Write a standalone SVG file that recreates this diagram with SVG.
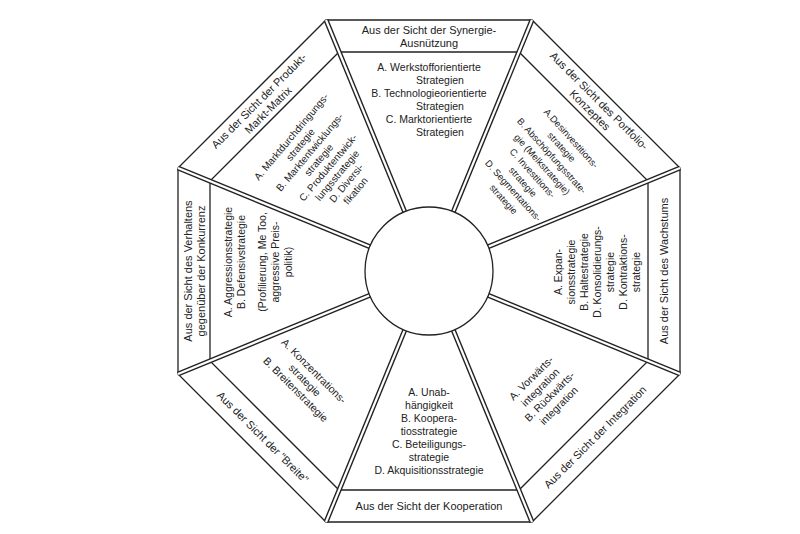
<svg xmlns="http://www.w3.org/2000/svg" width="800" height="534" viewBox="0 0 800 534">
<style>
text{font-family:"Liberation Sans",Arial,sans-serif;font-size:10.5px;fill:#222;text-anchor:middle}
.h{font-size:11px}
.s{font-size:10px}
.t{font-size:9.5px}
.ln{fill:none;stroke:#222;stroke-width:1.3}
.sp{stroke:#222;stroke-width:5}
.spw{stroke:#fff;stroke-width:2.2}
</style>
<rect width="800" height="534" fill="#fff"/>
<g id="frame">
<polygon class="ln" points="326,20 532,20 680,168 680,374 532,522 326,522 178,374 178,168"/>
<polygon class="ln" points="339,52 519,52 648,181 648,361 519,490 339,490 210,361 210,181"/>
</g>
<g id="connectors">
<line class="sp" x1="429" y1="271" x2="326" y2="20"/><line class="spw" x1="429" y1="271" x2="326" y2="20"/>
<line class="sp" x1="429" y1="271" x2="532" y2="20"/><line class="spw" x1="429" y1="271" x2="532" y2="20"/>
<line class="sp" x1="429" y1="271" x2="680" y2="168"/><line class="spw" x1="429" y1="271" x2="680" y2="168"/>
<line class="sp" x1="429" y1="271" x2="680" y2="374"/><line class="spw" x1="429" y1="271" x2="680" y2="374"/>
<line class="sp" x1="429" y1="271" x2="532" y2="522"/><line class="spw" x1="429" y1="271" x2="532" y2="522"/>
<line class="sp" x1="429" y1="271" x2="326" y2="522"/><line class="spw" x1="429" y1="271" x2="326" y2="522"/>
<line class="sp" x1="429" y1="271" x2="178" y2="374"/><line class="spw" x1="429" y1="271" x2="178" y2="374"/>
<line class="sp" x1="429" y1="271" x2="178" y2="168"/><line class="spw" x1="429" y1="271" x2="178" y2="168"/>
</g>
<g id="center"><circle cx="429" cy="271" r="64" fill="#fff" stroke="#222" stroke-width="1.3"/></g>
<g id="synergie">
<text class="h" x="429" y="34">Aus der Sicht der Synergie-</text>
<text class="h" x="429" y="47">Ausnützung</text>
<text x="429" y="71">A. Werkstofforientierte</text><text x="440" y="84">Strategien</text>
<text x="429" y="97">B. Technologieorientierte</text><text x="440" y="110">Strategien</text>
<text x="429" y="123">C. Marktorientierte</text><text x="440" y="136">Strategien</text>
</g>
<g id="produkt">
<g transform="translate(263,105) rotate(-45)"><text class="h" y="-2">Aus der Sicht der Produkt-</text><text class="h" y="11">Markt-Matrix</text></g>
<g transform="translate(326,166) rotate(-50)">
<text class="s" y="-42">A. Marktdurchdringungs-</text><text class="s" y="-30">strategie</text><text class="s" y="-18">B. Marktentwicklungs-</text><text class="s" y="-6">strategie</text><text class="s" y="6">C. Produktentwick-</text><text class="s" y="18">lungsstrategie</text><text class="s" y="30">D. Diversi-</text><text class="s" y="42">fikation</text></g>
</g>
<g id="portfolio">
<g transform="translate(595,105) rotate(45)"><text class="h" y="-2">Aus der Sicht des Portfolio-</text><text class="h" y="11">Konzeptes</text></g>
<g transform="translate(536,170) rotate(48)">
<text class="t" y="-44">A.Desinvestitions-</text><text class="t" y="-31">strategie</text><text class="t" y="-18">B. Abschöpfungsstrate-</text><text class="t" y="-5">gie (Melkstrategie)</text><text class="t" y="8">C. Investitions-</text><text class="t" y="21">strategie</text><text class="t" y="34">D. Segmentations-</text><text class="t" y="47">strategie</text></g>
</g>
<g id="wachstum">
<g transform="translate(664,271) rotate(-90)"><text class="h" y="4">Aus der Sicht des Wachstums</text></g>
<g transform="translate(596,272) rotate(-90)">
<text y="-34">A. Expan-</text><text y="-21">sionsstrategie</text><text y="-8">B. Haltestrategie</text><text y="5">D. Konsolidierungs-</text><text y="18">strategie</text><text y="31">D. Kontraktions-</text><text y="44">strategie</text></g>
</g>
<g id="integration">
<g transform="translate(595,437) rotate(-45)"><text class="h" y="4">Aus der Sicht der Integration</text></g>
<g transform="translate(545,392) rotate(-45)">
<text y="-16">A. Vorwärts-</text><text y="-3">integration</text><text y="10">B. Rückwärts-</text><text y="23">integration</text></g>
</g>
<g id="kooperation">
<text class="h" x="429" y="510">Aus der Sicht der Kooperation</text>
<text x="429" y="396">A. Unab-</text><text x="429" y="409">hängigkeit</text>
<text x="429" y="422">B. Koopera-</text><text x="429" y="435">tiosstrategie</text>
<text x="429" y="448">C. Beteiligungs-</text><text x="429" y="461">strategie</text>
<text x="429" y="474">D. Akquisitionsstrategie</text>
</g>
<g id="breite">
<g transform="translate(263,437) rotate(45)"><text class="h" y="4">Aus der Sicht der "Breite"</text></g>
<g transform="translate(305,380) rotate(45)">
<text y="-9">A. Konzentrations-</text><text y="4">strategie</text><text y="17">B. Breitenstrategie</text></g>
</g>
<g id="konkurrenz">
<g transform="translate(194,271) rotate(-90)"><text class="h" y="-2">Aus der Sicht des Verhaltens</text><text class="h" y="11">gegenüber der Konkurrenz</text></g>
<g transform="translate(262,262) rotate(-90)">
<text y="-30">A. Aggressionsstrategie</text><text y="-17">B. Defensivstrategie</text>
<text y="4">(Profilierung, Me Too,</text><text y="17">aggressive Preis-</text><text y="30">politik)</text></g>
</g>
</svg>
